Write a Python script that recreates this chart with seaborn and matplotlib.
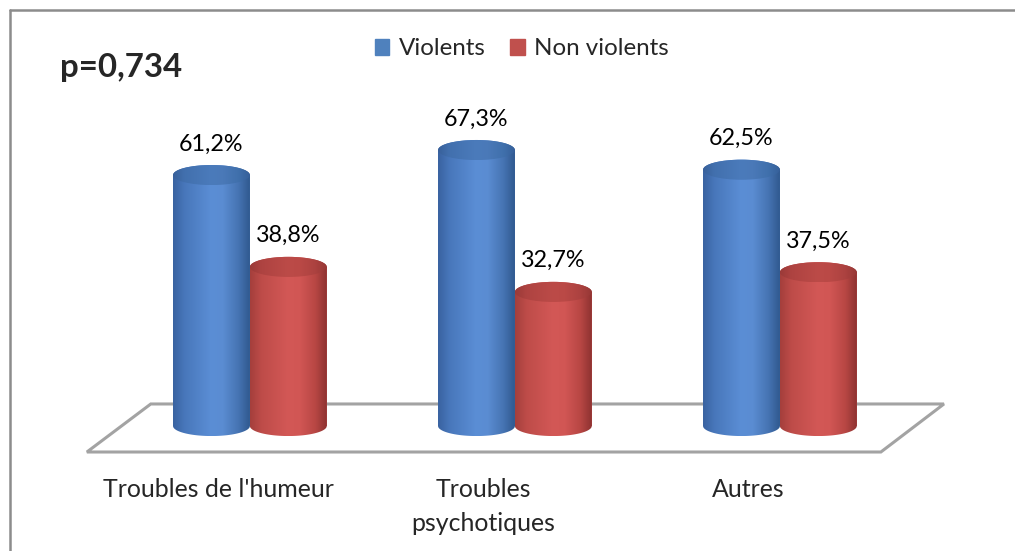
import numpy as np
import pandas as pd
import matplotlib
matplotlib.use("Agg")
import matplotlib.pyplot as plt
import seaborn as sns
from matplotlib.path import Path
from matplotlib.patches import PathPatch, Ellipse, Patch, Polygon
from matplotlib.lines import Line2D
from matplotlib.colors import to_rgb

# ---- data -------------------------------------------------------------
categories = ["Troubles de l'humeur", "Troubles\npsychotiques", "Autres"]
groups = ["Violents", "Non violents"]
violents = [61.2, 67.3, 62.5]
non_violents = [38.8, 32.7, 37.5]
p_value_text = "p=0,734"

df = pd.DataFrame({
    "category": categories * 2,
    "group": [groups[0]] * 3 + [groups[1]] * 3,
    "value": violents + non_violents,
})

# ---- style ------------------------------------------------------------
sns.set_theme(style="white")
plt.rcParams["font.family"] = ["Lato", "DejaVu Sans"]

BLUE = "#4F81BD"
RED = "#C0504D"
# horizontal light profile of each cylinder body (left edge -> right edge)
PROFILE_T = [0.0, 0.15, 0.5, 0.65, 0.85, 1.0]
BODY_COLORS = {
    0: ["#3962A0", "#4877BB", "#5B8ED5", "#5A8CD2", "#4674B3", "#30598F"],
    1: ["#A43F3C", "#BE4C49", "#D35856", "#D15654", "#B84744", "#8E3231"],
}
CAP_COLORS = {
    0: ["#38609A", "#4270AE", "#4B7BBB", "#4A79B8", "#4070AC", "#36609A"],
    1: ["#9A3A38", "#AE4341", "#BC4B48", "#BA4946", "#AC4240", "#963735"],
}


def gradient(colors, n=256):
    t = np.linspace(0, 1, n)
    rgb = np.array([to_rgb(c) for c in colors])
    img = np.stack([np.interp(t, PROFILE_T, rgb[:, i]) for i in range(3)], axis=-1)
    return img[np.newaxis, :, :]


fig = plt.figure(figsize=(10.15, 5.51), dpi=100)
ax = fig.add_axes([40 / 1015, (551 - 470) / 551, 940 / 1015, 370 / 551])

sns.barplot(data=df, x="category", y="value", hue="group",
            order=categories, hue_order=groups,
            palette=[BLUE, RED], saturation=1, width=0.58,
            legend=False, ax=ax, edgecolor="none")

XLIM = (-0.792, 2.755)
YLIM = (-10.73, 79.5)
CAP_RY = 2.45          # half-height of the elliptical caps, in value units

# floor of the 3-D plot area
floor = Polygon([(-0.374, 5.37), (2.619, 5.37), (2.381, -6.34), (-0.615, -6.34)],
                closed=True, facecolor="white", edgecolor="#a3a3a3",
                lw=2.2, zorder=1)
ax.add_patch(floor)

for k, container in enumerate(ax.containers):
    for rect in container:
        x0, w, h = rect.get_x(), rect.get_width(), rect.get_height()
        cx, rx = x0 + w / 2, w / 2
        z = 3 + k
        rect.set_zorder(z)

        th_top = np.linspace(0, np.pi, 60)
        th_bot = np.linspace(np.pi, 2 * np.pi, 60)
        pts = np.vstack([
            np.column_stack([cx + rx * np.cos(th_top), h + CAP_RY * np.sin(th_top)]),
            np.column_stack([cx + rx * np.cos(th_bot), CAP_RY * np.sin(th_bot)]),
        ])
        pts = np.vstack([pts, pts[:1]])
        body = PathPatch(Path(pts, closed=True), facecolor="none",
                         edgecolor="none", transform=ax.transData)
        ax.add_patch(body)
        im = ax.imshow(gradient(BODY_COLORS[k]), extent=[x0, x0 + w, -CAP_RY, h + CAP_RY],
                       origin="lower", aspect="auto", interpolation="bilinear",
                       zorder=z + 0.1)
        im.set_clip_path(body)

        cap = Ellipse((cx, h), w, 2 * CAP_RY, facecolor="none", edgecolor="none",
                      transform=ax.transData)
        ax.add_patch(cap)
        im2 = ax.imshow(gradient(CAP_COLORS[k]), extent=[x0, x0 + w, h - CAP_RY, h + CAP_RY],
                        origin="lower", aspect="auto", interpolation="bilinear",
                        zorder=z + 0.2)
        im2.set_clip_path(cap)

        label = f"{h:.1f}".replace(".", ",") + "%"
        ax.annotate(label, (cx, h + CAP_RY), xytext=(0, 10.5), textcoords="offset points",
                    ha="center", va="baseline", fontsize=16.8, color="black", zorder=10)

ax.set_xlim(*XLIM)
ax.set_ylim(*YLIM)
ax.set_xticks([i - 0.118 for i in range(len(categories))])
ax.set_xticklabels(categories, fontsize=17.9, linespacing=1.6)
ax.tick_params(axis="x", length=0, pad=5.5)
ax.set_yticks([])
ax.set_xlabel("")
ax.set_ylabel("")
for s in ax.spines.values():
    s.set_visible(False)

# chart frame
fig.add_artist(Line2D([10 / 1015, 1.0], [1 - 10 / 551] * 2, transform=fig.transFigure,
                      color="#8c8c8c", lw=1.8))
fig.add_artist(Line2D([10 / 1015] * 2, [0.0, 1 - 10 / 551], transform=fig.transFigure,
                      color="#8c8c8c", lw=1.8))

fig.legend(handles=[Patch(color=BLUE), Patch(color=RED)], labels=groups,
           ncol=2, loc="center", bbox_to_anchor=(522 / 1015, 1 - 49 / 551),
           frameon=False, fontsize=17.4, handlelength=0.6, handleheight=0.6,
           handletextpad=0.4, columnspacing=1.0)

fig.text(60 / 1015, 1 - 68 / 551, p_value_text, fontsize=23.8, fontweight="bold",
         ha="left", va="center")

fig.savefig("out.png", dpi=100)
